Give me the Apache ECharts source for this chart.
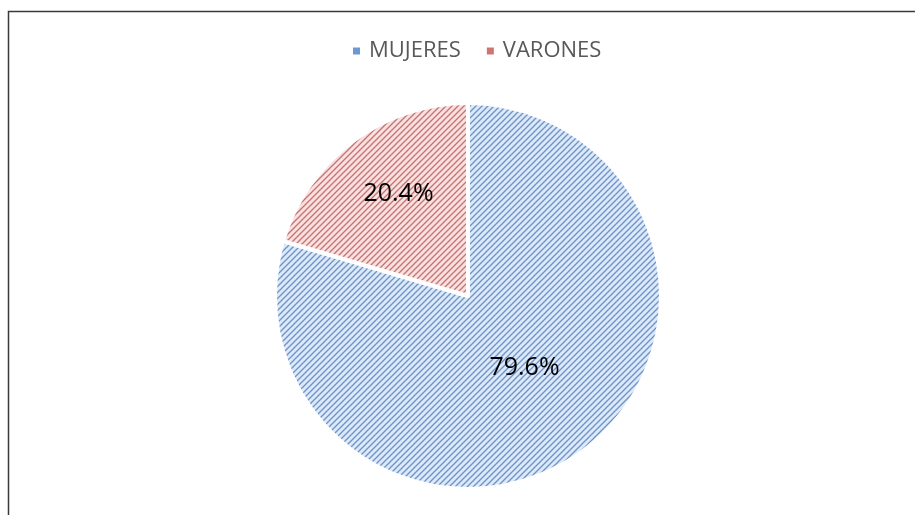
<!DOCTYPE html>
<html>
<head>
<meta charset="utf-8">
<script src="https://cdn.jsdelivr.net/npm/echarts@6/dist/echarts.min.js"></script>
<style>
  html, body { margin: 0; padding: 0; background: #fff; }
  #chart { width: 915px; height: 515px; }
</style>
</head>
<body>
<div id="chart"></div>
<script>
const categories = ['MUJERES', 'VARONES']
const values = [79.6, 20.4]
const stripeColors = ['#6693d2', '#cf6e6c']
const backColors = ['#dfe8f5', '#f5e2e1']
const legendColors = ['#6d98d3', '#d07472']

// patrón de rayas diagonales como en Excel
const makePattern = (fg, bg) => {
  const s = 6
  const c = document.createElement('canvas')
  c.width = s
  c.height = s
  const ctx = c.getContext('2d')
  ctx.fillStyle = bg
  ctx.fillRect(0, 0, s, s)
  ctx.strokeStyle = fg
  ctx.lineWidth = 1.3
  ctx.beginPath()
  ctx.moveTo(-1, s + 1)
  ctx.lineTo(s + 1, -1)
  ctx.moveTo(-1, 1)
  ctx.lineTo(1, -1)
  ctx.moveTo(s - 1, s + 1)
  ctx.lineTo(s + 1, s - 1)
  ctx.stroke()
  return { image: c, repeat: 'repeat' }
}

const labelOffsets = [[-3, -8], [-10, -22]]

const chart = echarts.init(document.getElementById('chart'))

const option = {
  backgroundColor: '#fff',
  animation: false,
  legend: {
    top: 35,
    left: 346,
    itemWidth: 9,
    itemHeight: 9,
    itemGap: 24,
    icon: 'rect',
    textStyle: {
      color: '#595959',
      fontSize: 22,
      fontFamily: 'Open Sans',
      padding: [0, 0, 0, 3]
    },
    data: categories.map((name, i) => ({
      name,
      itemStyle: { color: legendColors[i] }
    }))
  },
  graphic: [
    {
      type: 'polyline',
      shape: { points: [[8.5, 515], [8.5, 11.5], [915, 11.5]] },
      style: { stroke: '#3a3a3a', lineWidth: 1.5, fill: null }
    }
  ],
  series: [
    {
      type: 'pie',
      center: [468, 296],
      radius: 193,
      startAngle: 90,
      clockwise: true,
      avoidLabelOverlap: false,
      itemStyle: {
        borderColor: '#fff',
        borderWidth: 4
      },
      label: {
        show: true,
        position: 'inside',
        color: '#000',
        fontSize: 25,
        fontFamily: 'Open Sans',
        formatter: (p) => p.value.toFixed(1) + '%'
      },
      labelLine: { show: false },
      emphasis: { disabled: true },
      data: categories.map((name, i) => ({
        name,
        value: values[i],
        itemStyle: { color: makePattern(stripeColors[i], backColors[i]) },
        label: { offset: labelOffsets[i] }
      }))
    }
  ]
}

chart.setOption(option)
</script>
</body>
</html>
